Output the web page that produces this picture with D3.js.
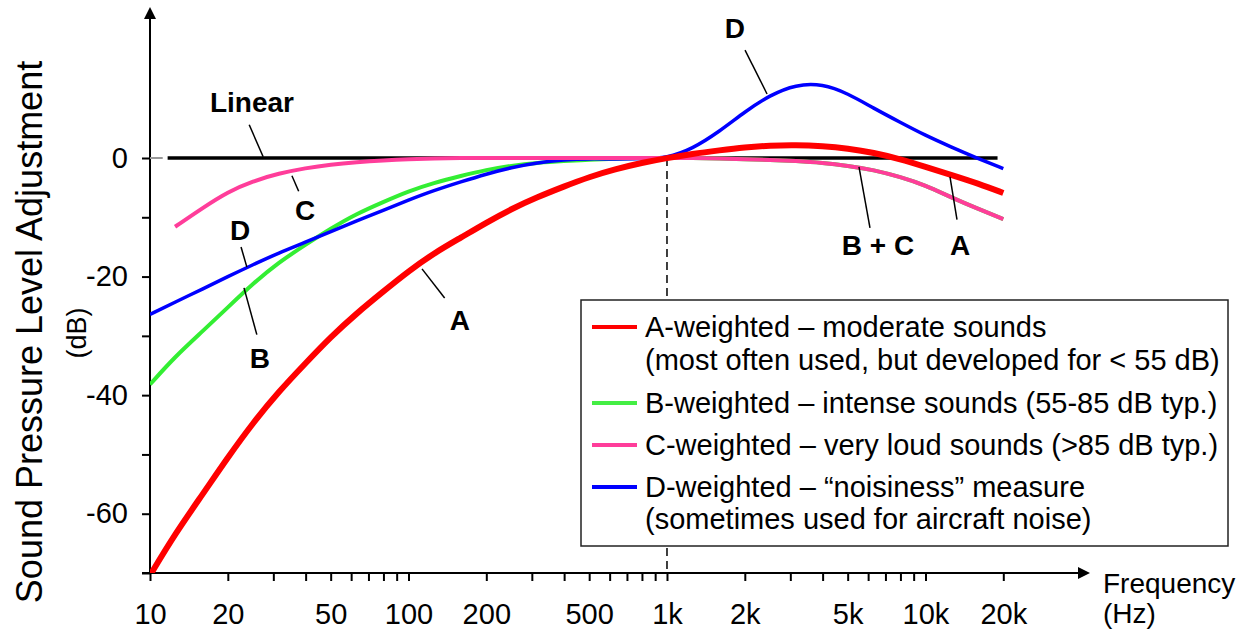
<!DOCTYPE html>
<html lang="en">
<head>
<meta charset="UTF-8">
<title>Frequency weighting curves</title>
<script src="https://cdn.jsdelivr.net/npm/d3@7"></script>
<style>
  body { margin: 0; background: #fff; overflow: hidden; }
  svg { display: block; font-family: "Liberation Sans", Arial, sans-serif; }
  .tick line { stroke: #000; stroke-width: 2; }
  .tick text { font-size: 29px; fill: #000; }
  .lbl { font-weight: bold; font-size: 28px; text-anchor: middle; }
  .leader { stroke: #000; stroke-width: 1.5; }
  .legend text { font-size: 29px; }
</style>
</head>
<body>
<svg id="chart" width="1251" height="644"></svg>
<script>
  // third-octave band centres (Hz)
  const freqs = [10, 12.5, 16, 20, 25, 31.5, 40, 50, 63, 80, 100, 125, 160, 200, 250, 315, 400, 500, 630, 800,
    1000, 1250, 1600, 2000, 2500, 3150, 4000, 5000, 6300, 8000, 10000, 12500, 16000, 20000];

  const dbA = [-70.4, -63.4, -56.7, -50.5, -44.7, -39.4, -34.6, -30.2, -26.2, -22.5, -19.1, -16.1, -13.4, -10.9, -8.6, -6.6, -4.8, -3.2, -1.9, -0.8,
    0, 0.7, 1.3, 1.8, 2.1, 2.2, 2.0, 1.6, 0.9, -0.2, -1.5, -2.8, -4.3, -5.9];
  const dbB = [-38.2, -33.5, -29.2, -25.2, -21.2, -17.6, -14.6, -11.9, -9.4, -7.4, -5.6, -4.2, -3.0, -2.0, -1.3, -0.8, -0.5, -0.3, -0.1, 0,
    0, 0, -0.1, -0.2, -0.3, -0.5, -0.8, -1.3, -2.0, -3.2, -4.6, -6.6, -8.6, -10.3];
  const dbC = [null, -11.6, -8.4, -5.7, -3.9, -2.6, -1.7, -1.1, -0.7, -0.4, -0.2, -0.1, 0, 0, 0, 0, 0, 0, 0, 0,
    0, 0, -0.1, -0.2, -0.3, -0.5, -0.8, -1.3, -2.0, -3.2, -4.6, -6.6, -8.6, -10.3];
  const dbD = [-26.4, -24.3, -22.1, -20.0, -18.0, -16.0, -14.2, -12.4, -10.6, -8.8, -7.1, -5.5, -4.0, -2.7, -1.6, -0.8, -0.3, -0.1, -0.2, -0.1,
    0, 1.5, 4.5, 7.8, 10.6, 12.4, 12.5, 10.9, 8.4, 6.0, 3.8, 1.9, -0.1, -1.8];

  const linearFreq = [11.7, 19000];
  const linearDb = [0, 0];

  const xTicks = [];
  [10, 100, 1000, 10000].forEach(dec => {
    for (let m = 1; m <= 9; m++) if (dec * m <= 20000) xTicks.push(dec * m);
  });
  const xLabelValues = [10, 20, 50, 100, 200, 500, 1000, 2000, 5000, 10000, 20000];
  const xLabelText = ["10", "20", "50", "100", "200", "500", "1k", "2k", "5k", "10k", "20k"];
  const yTicks = [-70, -60, -50, -40, -30, -20, -10, 0];
  const yLabelValues = [0, -20, -40, -60];

  const series = [
    {name: "B", values: dbB, color: "#33ee33", width: 4},
    {name: "D", values: dbD, color: "#0000ff", width: 3.5},
    {name: "C", values: dbC, color: "#ff3d9a", width: 4},
    {name: "A", values: dbA, color: "#ff0000", width: 6}
  ];

  const legendRows = [
    {text: "A-weighted \u2013 moderate sounds", color: "#ff0000"},
    {text: "(most often used, but developed for < 55 dB)", color: null},
    {text: "B-weighted \u2013 intense sounds (55-85 dB typ.)", color: "#44ee44"},
    {text: "C-weighted \u2013 very loud sounds (>85 dB typ.)", color: "#ff3d9a"},
    {text: "D-weighted \u2013 \u201cnoisiness\u201d measure", color: "#0000ff"},
    {text: "(sometimes used for aircraft noise)", color: null}
  ];
  const legendBaselines = [337, 370, 413, 455, 497, 529];

  // curve labels, in data space: text anchor and leader line ends
  const labels = [
    {text: "Linear", f: 24.8, db: 7.7, from: [24.2, 5.6], to: [27.4, 0.2]},
    {text: "C", f: 39.8, db: -10.4, from: [35.4, -3.0], to: [37.6, -5.6]},
    {text: "D", f: 22.3, db: -13.8, from: [22.5, -15.0], to: [23.7, -18.4]},
    {text: "B", f: 26.6, db: -35.4, from: [23.1, -21.9], to: [25.9, -29.8]},
    {text: "A", f: 158, db: -29.0, from: [112.8, -18.7], to: [138, -23.6]},
    {text: "D", f: 1832, db: 20.2, from: [2004, 18.2], to: [2438, 10.8]},
    {text: "B + C", f: 6550, db: -16.3, from: [5530, -1.5], to: [6100, -11.8]},
    {text: "A", f: 13600, db: -16.3, from: [12440, -3.2], to: [13240, -10.4]}
  ];

  const svg = d3.select("#chart");
  const x = d3.scaleLog().domain([10, 20000]).range([150, 1003.3]);
  const y = d3.scaleLinear().domain([-70, 0]).range([573, 158]);

  svg.append("clipPath").attr("id", "plot")
    .append("rect").attr("x", 150).attr("y", 0).attr("width", 1100).attr("height", y(-70));

  // axes
  svg.append("g")
      .attr("transform", `translate(0,${y(-70)})`)
      .call(d3.axisBottom(x).tickValues(xTicks).tickSize(8).tickPadding(22)
          .tickFormat(d => {
            const i = xLabelValues.indexOf(d);
            return i < 0 ? "" : xLabelText[i];
          }))
      .attr("font-family", null).attr("font-size", null)
      .call(g => g.select(".domain").remove());

  svg.append("g")
      .attr("transform", "translate(150,0)")
      .call(d3.axisLeft(y).tickValues(yTicks).tickSize(8).tickPadding(14)
          .tickFormat(d => yLabelValues.includes(d) ? String(d) : ""))
      .attr("font-family", null).attr("font-size", null)
      .call(g => g.select(".domain").remove());

  svg.append("line").attr("x1", 150).attr("x2", 150).attr("y1", y(-70)).attr("y2", 18)
      .attr("stroke", "#000").attr("stroke-width", 2);
  svg.append("path").attr("d", "M144,19L156,19L150,7Z").attr("fill", "#000");
  svg.append("line").attr("x1", 142).attr("x2", 1078).attr("y1", y(-70)).attr("y2", y(-70))
      .attr("stroke", "#000").attr("stroke-width", 2);
  svg.append("path").attr("d", `M1078,${y(-70) - 6}L1078,${y(-70) + 6}L1090,${y(-70)}Z`).attr("fill", "#000");

  // axis titles
  svg.append("text").attr("transform", "translate(42,332) rotate(-90)")
      .attr("text-anchor", "middle").attr("font-size", 36).text("Sound Pressure Level Adjustment");
  svg.append("text").attr("transform", "translate(86,333) rotate(-90)")
      .attr("text-anchor", "middle").attr("font-size", 27).text("(dB)");
  svg.append("text").attr("x", 1103).attr("y", 593).attr("font-size", 28).text("Frequency");
  svg.append("text").attr("x", 1103).attr("y", 623).attr("font-size", 28).text("(Hz)");

  // 1 kHz reference
  svg.append("line").attr("x1", x(1000)).attr("x2", x(1000)).attr("y1", y(0)).attr("y2", y(-70))
      .attr("stroke", "#000").attr("stroke-width", 1.5).attr("stroke-dasharray", "8,5");

  // linear reference
  svg.append("line").attr("x1", x(10)).attr("x2", x(11.2)).attr("y1", y(0)).attr("y2", y(0))
      .attr("stroke", "#999").attr("stroke-width", 2);
  svg.append("path")
      .attr("d", d3.line().x(d => x(d[0])).y(d => y(d[1]))(d3.zip(linearFreq, linearDb)))
      .attr("stroke", "#000").attr("stroke-width", 3.5).attr("fill", "none");

  const line = d3.line()
      .defined(d => d[1] !== null)
      .x(d => x(d[0])).y(d => y(d[1]))
      .curve(d3.curveBasis);

  svg.append("g").attr("clip-path", "url(#plot)")
      .selectAll("path")
      .data(series)
      .join("path")
      .attr("d", s => line(d3.zip(freqs, s.values)))
      .attr("fill", "none")
      .attr("stroke", s => s.color)
      .attr("stroke-width", s => s.width)
      .attr("stroke-linejoin", "round");

  // labels with leaders
  svg.append("g").selectAll("line").data(labels).join("line")
      .attr("class", "leader")
      .attr("x1", d => x(d.from[0])).attr("y1", d => y(d.from[1]))
      .attr("x2", d => x(d.to[0])).attr("y2", d => y(d.to[1]));
  svg.append("g").selectAll("text").data(labels).join("text")
      .attr("class", "lbl")
      .attr("x", d => x(d.f)).attr("y", d => y(d.db))
      .text(d => d.text);

  // legend
  const legend = svg.append("g").attr("class", "legend");
  legend.append("rect").attr("x", 581).attr("y", 300).attr("width", 647).attr("height", 246)
      .attr("fill", "#fff").attr("stroke", "#222").attr("stroke-width", 1.5);
  legendRows.forEach((r, i) => {
    const by = legendBaselines[i];
    if (r.color) {
      legend.append("line").attr("x1", 592).attr("x2", 637).attr("y1", by - 10).attr("y2", by - 10)
          .attr("stroke", r.color).attr("stroke-width", 4);
    }
    legend.append("text").attr("x", 645).attr("y", by).text(r.text);
  });
</script>
</body>
</html>
